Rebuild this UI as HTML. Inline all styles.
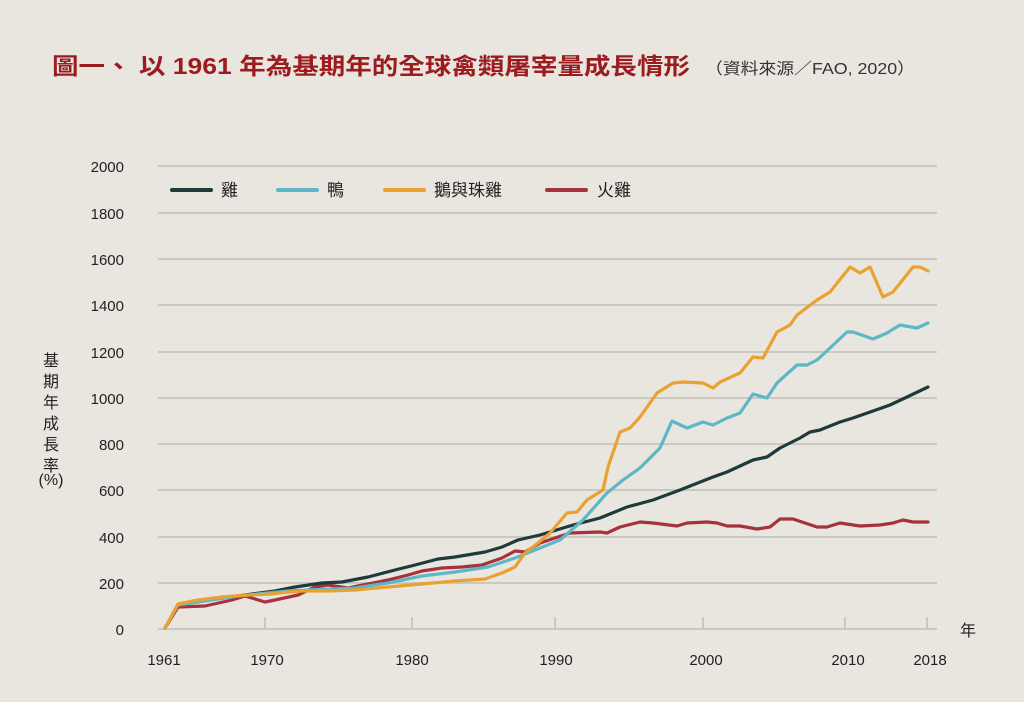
<!DOCTYPE html>
<html><head><meta charset="utf-8"><style>
html,body{margin:0;padding:0;background:#e9e6e0;}
body{width:1024px;height:702px;overflow:hidden;position:relative;font-family:"Liberation Sans","Noto Sans CJK TC",sans-serif;}
</style></head><body>
<svg width="1024" height="702" viewBox="0 0 1024 702" xmlns="http://www.w3.org/2000/svg" style="position:absolute;left:0;top:0">
<rect width="1024" height="702" fill="#e9e6e0"/>
<text x="52" y="74" textLength="638" lengthAdjust="spacingAndGlyphs" font-family="Liberation Sans,Noto Sans CJK TC,sans-serif" font-size="23" font-weight="bold" fill="#9b1b1e">圖一、 以 1961 年為基期年的全球禽類屠宰量成長情形</text>
<text x="705" y="74" textLength="210" lengthAdjust="spacingAndGlyphs" font-family="Liberation Sans,Noto Sans CJK TC,sans-serif" font-size="16" fill="#333">（資料來源／FAO, 2020）</text>
<g stroke="#cbc8c2" stroke-width="2">
<line x1="158" x2="937" y1="166" y2="166"/><line x1="158" x2="937" y1="213" y2="213"/>
<line x1="158" x2="937" y1="259" y2="259"/><line x1="158" x2="937" y1="305" y2="305"/>
<line x1="158" x2="937" y1="352" y2="352"/><line x1="158" x2="937" y1="398" y2="398"/>
<line x1="158" x2="937" y1="444" y2="444"/><line x1="158" x2="937" y1="490" y2="490"/>
<line x1="158" x2="937" y1="537" y2="537"/><line x1="158" x2="937" y1="583" y2="583"/>
<line x1="158" x2="937" y1="629" y2="629"/>
<line x1="265" x2="265" y1="617" y2="629"/><line x1="412" x2="412" y1="617" y2="629"/>
<line x1="555" x2="555" y1="617" y2="629"/><line x1="703" x2="703" y1="617" y2="629"/>
<line x1="845" x2="845" y1="617" y2="629"/><line x1="927" x2="927" y1="617" y2="629"/>
</g>
<g font-family="Liberation Sans,sans-serif" font-size="15" fill="#222" text-anchor="end">
<text x="124" y="172">2000</text><text x="124" y="219">1800</text><text x="124" y="265">1600</text>
<text x="124" y="311">1400</text><text x="124" y="358">1200</text><text x="124" y="404">1000</text>
<text x="124" y="450">800</text><text x="124" y="496">600</text><text x="124" y="543">400</text>
<text x="124" y="589">200</text><text x="124" y="635">0</text>
</g>
<g font-family="Liberation Sans,sans-serif" font-size="15" fill="#222" text-anchor="middle">
<text x="164" y="665">1961</text><text x="267" y="665">1970</text><text x="412" y="665">1980</text>
<text x="556" y="665">1990</text><text x="706" y="665">2000</text><text x="848" y="665">2010</text><text x="930" y="665">2018</text>
</g>
<text x="960" y="636" font-family="Noto Sans CJK TC,sans-serif" font-size="16" fill="#222">年</text>
<g font-family="Noto Sans CJK TC,sans-serif" font-size="16" fill="#222" text-anchor="middle">
<text x="51" y="366">基</text><text x="51" y="387">期</text><text x="51" y="408">年</text>
<text x="51" y="429">成</text><text x="51" y="450">長</text><text x="51" y="471">率</text>
<text x="51" y="485" font-family="Liberation Sans,Noto Sans CJK TC,sans-serif">(%)</text>
</g>
<g stroke-width="4" stroke-linecap="round">
<line x1="172" x2="211" y1="190" y2="190" stroke="#1f3a3b"/>
<line x1="278" x2="317" y1="190" y2="190" stroke="#5db7c7"/>
<line x1="385" x2="424" y1="190" y2="190" stroke="#e9a231"/>
<line x1="547" x2="586" y1="190" y2="190" stroke="#a6323e"/>
</g>
<g font-family="Noto Sans CJK TC,sans-serif" font-size="17" fill="#222">
<text x="221" y="196">雞</text><text x="327" y="196">鴨</text><text x="434" y="196">鵝與珠雞</text><text x="597" y="196">火雞</text>
</g>
<g fill="none" stroke-width="3.2" stroke-linejoin="round" stroke-linecap="round">
<polyline stroke="#a6323e" points="165,628 178,607 205,606 232,600 245,596 265,602 275,600 298,595 315,587 328,585 348,588 368,584 388,580 408,575 422,571 442,568 462,567 482,565 502,558 515,551 525,552 540,543 570,533 600,532 607,533 620,527 640,522 653,523 677,526 687,523 707,522 717,523 727,526 740,526 757,529 770,527 780,519 793,519 817,527 827,527 840,523 860,526 880,525 893,523 903,520 913,522 928,522"/>
<polyline stroke="#1f3a3b" points="165,628 178,605 205,600 245,595 275,591 295,587 322,583 342,582 368,577 395,570 415,565 438,559 455,557 485,552 502,547 518,540 540,535 573,525 600,518 627,507 653,500 680,490 713,477 727,472 753,460 767,457 780,448 800,438 810,432 820,430 840,422 853,418 873,411 890,405 907,397 928,387"/>
<polyline stroke="#5db7c7" points="165,628 178,605 238,596 288,591 355,588 388,583 422,576 455,572 488,567 515,558 540,548 560,540 583,520 607,493 623,480 640,468 660,448 672,421 687,428 703,422 713,425 727,418 740,413 753,394 767,398 777,383 797,365 807,365 817,360 830,348 847,332 853,332 873,339 887,333 900,325 917,328 928,323"/>
<polyline stroke="#e9a231" points="165,628 178,604 198,600 222,597 248,595 272,594 288,592 302,591 328,591 355,590 388,587 422,584 455,581 485,579 502,573 515,567 525,553 538,543 550,533 567,513 577,512 587,500 603,490 608,467 620,432 630,428 640,417 657,393 673,383 683,382 703,383 713,388 720,382 740,373 753,357 763,358 777,332 790,325 797,315 817,300 830,292 850,267 860,273 870,267 883,297 893,292 913,267 920,267 928,271"/>
</g>
</svg>
</body></html>
